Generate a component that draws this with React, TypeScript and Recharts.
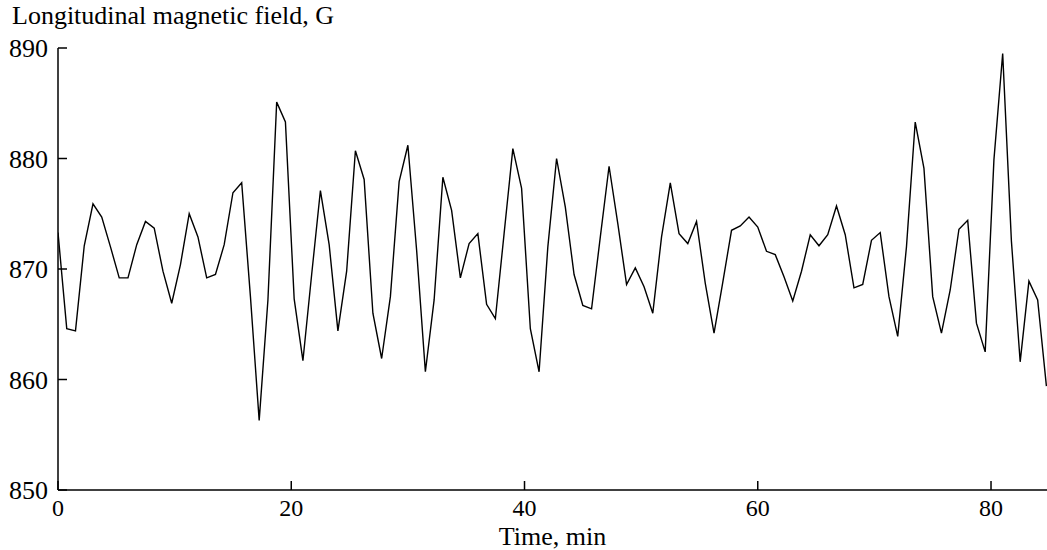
import { LineChart, Line, XAxis, YAxis } from 'recharts';

// sampling interval of the record, minutes
const SAMPLE_STEP = 0.75;

// longitudinal field, G
const fieldValues = [
  873.3, 864.6, 864.4, 872.1, 875.9, 874.7, 872.0, 869.2, 869.2, 872.2,
  874.3, 873.7, 869.8, 866.9, 870.4, 875.0, 872.9, 869.2, 869.5, 872.2,
  876.9, 877.8, 867.5, 856.3, 867.2, 885.1, 883.3, 867.3, 861.7, 869.5,
  877.1, 872.2, 864.4, 869.8, 880.7, 878.1, 866.0, 861.9, 867.5, 877.9,
  881.2, 871.7, 860.7, 867.2, 878.3, 875.3, 869.2, 872.3, 873.2, 866.8,
  865.5, 873.2, 880.9, 877.3, 864.6, 860.7, 872.0, 880.0, 875.6, 869.5,
  866.7, 866.4, 872.9, 879.3, 874.1, 868.6, 870.1, 868.4, 866.0, 872.9,
  877.8, 873.2, 872.3, 874.3, 868.7, 864.2, 868.8, 873.5, 873.9, 874.7,
  873.8, 871.6, 871.3, 869.3, 867.1, 869.8, 873.1, 872.1, 873.1, 875.7,
  873.1, 868.3, 868.6, 872.6, 873.3, 867.5, 863.9, 872.0, 883.3, 879.1,
  867.5, 864.2, 868.1, 873.6, 874.4, 865.1, 862.5, 879.9, 889.5, 872.5,
  861.6, 868.9, 867.2, 859.4,
];

const xTicks = [0, 20, 40, 60, 80];
const yTicks = [850, 860, 870, 880, 890];

const data = fieldValues.map((v, i) => ({ t: i * SAMPLE_STEP, b: v }));

const FONT = '"Liberation Serif", "Times New Roman", serif';
const tickStyle = { fontSize: 26, fill: '#000', fontFamily: FONT };
const xTickStyle = { fontSize: 24, fill: '#000', fontFamily: FONT };

export default function App() {
  return (
    <div style={{ position: 'absolute', left: 0, top: 0, width: 1047, height: 550, background: '#fff' }}>
      <div
        style={{
          position: 'absolute', left: 12, top: 1, fontFamily: FONT,
          fontSize: 26, lineHeight: '30px', color: '#000', whiteSpace: 'nowrap',
        }}
      >
        Longitudinal magnetic field, G
      </div>
      <LineChart width={1047} height={550} data={data} margin={{ top: 48, right: 0, bottom: 0, left: 0 }}>
        <XAxis
          dataKey="t"
          type="number"
          domain={[0, 84.8]}
          ticks={xTicks}
          allowDataOverflow
          height={60}
          stroke="#000"
          strokeWidth={1.5}
          tickSize={-9}
          tickMargin={18}
          tick={xTickStyle}
          label={{ value: 'Time, min', position: 'insideBottom', offset: 5, style: tickStyle }}
        />
        <YAxis
          type="number"
          domain={[850, 890]}
          ticks={yTicks}
          allowDataOverflow
          width={58}
          stroke="#000"
          strokeWidth={1.5}
          tickSize={-9}
          tickMargin={19}
          tick={tickStyle}
        />
        <Line
          type="linear"
          dataKey="b"
          stroke="#000"
          strokeWidth={1.4}
          dot={false}
          isAnimationActive={false}
        />
      </LineChart>
    </div>
  );
}
